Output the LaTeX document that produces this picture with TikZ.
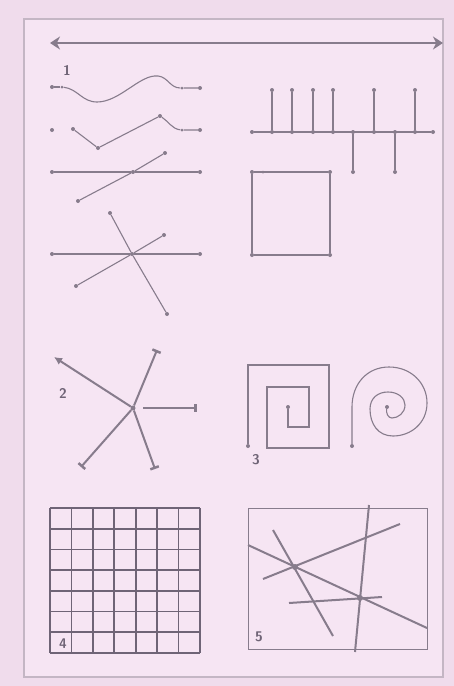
\documentclass[tikz,border=0pt]{standalone}
\usetikzlibrary{arrows.meta}
\definecolor{paper}{HTML}{F0DCEC}
\definecolor{paperin}{HTML}{F6E5F3}
\definecolor{ink}{HTML}{877C8C}
\definecolor{inkd}{HTML}{6F6476}
\definecolor{framec}{HTML}{C4B6C4}
\tikzset{
  ln/.style={draw=ink, line width=1.1pt},
  thk/.style={draw=ink, line width=2pt},
  pt/.style={circle, fill=ink, inner sep=0pt, minimum size=4pt},
  spt/.style={circle, fill=ink, inner sep=0pt, minimum size=3pt},
  lab/.style={text=inkd, font=\sffamily\bfseries\fontsize{14}{14}\selectfont, inner sep=0pt}
}
\begin{document}
\begin{tikzpicture}[x=1pt,y=-1pt]
\useasboundingbox (0,0) rectangle (454,686);
\fill[paper] (0,0) rectangle (454,686);
\fill[paperin] (24,19) rectangle (443,677);
\draw[framec, line width=1.4pt] (24,19) rectangle (443,677);

% top double arrow
\coordinate (A1) at (50,43);
\coordinate (A2) at (443,43);
\draw[draw=ink, line width=2.8pt, {Stealth[length=10pt,width=13pt]}-{Stealth[length=10pt,width=13pt]}] (A1) -- (A2);

% ---------- section 1 left ----------
\node[lab] (n1) at (67,70) {1};
% wave
\node[pt] (w0) at (52,87) {};
\node[spt] (w1) at (62,87) {};
\node[spt] (w2) at (182,88) {};
\node[pt] (w3) at (200,88) {};
\draw[ln] (w0) -- (w1);
\draw[ln] (w1) .. controls (78,89) and (82,102) .. (97,102)
   .. controls (120,102) and (140,74) .. (158,76)
   .. controls (168,77) and (170,88) .. (w2) -- (w3);
% zigzag
\node[pt] (z0) at (52,130) {};
\node[pt] (z1) at (73,129) {};
\node[pt] (z2) at (98,148) {};
\node[pt] (z3) at (160,116) {};
\node[spt] (z4) at (182,130) {};
\node[pt] (z5) at (200,130) {};
\draw[ln] (z1) -- (z2) -- (z3) .. controls (168,121) and (172,129) .. (z4) -- (z5);
% line with crossing
\node[pt] (h0) at (52,172) {};
\node[pt] (hc) at (133,172) {};
\node[pt] (h1) at (200,172) {};
\node[pt] (c0) at (165,153) {};
\node[pt] (c1) at (78,201) {};
\draw[ln] (h0) -- (hc) -- (h1);
\draw[ln] (c0) -- (hc) -- (c1);
% star
\node[pt] (s0) at (52,254) {};
\node[pt] (sc) at (132,254) {};
\node[pt] (s1) at (200,254) {};
\node[pt] (s2) at (110,213) {};
\node[pt] (s3) at (167,314) {};
\node[pt] (s4) at (164,235) {};
\node[pt] (s5) at (76,286) {};
\draw[ln] (s0) -- (sc) -- (s1);
\draw[ln] (s2) -- (sc) -- (s3);
\draw[ln] (s4) -- (sc) -- (s5);

% ---------- section 1 right ----------
\node[pt] (r0) at (252,132) {};
\node[pt] (r9) at (433,132) {};
\draw[ln] (r0) -- (r9);
\foreach \x [count=\i] in {272,292,313,333,374,415}{
  \node[pt] (ru\i) at (\x,132) {};
  \node[pt] (rt\i) at (\x,90) {};
  \draw[ln] (ru\i) -- (rt\i);
}
\foreach \x [count=\i] in {353,395}{
  \node[pt] (rd\i) at (\x,132) {};
  \node[pt] (rb\i) at (\x,172) {};
  \draw[ln] (rd\i) -- (rb\i);
}
% square
\node[pt] (q1) at (252,172) {};
\node[spt] (q1b) at (263,172) {};
\node[pt] (q2) at (330,172) {};
\node[pt] (q3) at (330,255) {};
\node[pt] (q4) at (252,255) {};
\draw[ln] (q1) -- (q2) -- (q3) -- (q4) -- (q1);

% ---------- section 2 ----------
\node[lab] (n2) at (63,393) {2};
\node[pt, minimum size=5pt] (pc) at (133,408) {};
\coordinate (pr0) at (143,408);
\coordinate (p1) at (54,357);
\coordinate (p2) at (157,350);
\coordinate (p3) at (197,408);
\coordinate (p4) at (81,467);
\coordinate (p5) at (155,469);
\draw[thk, -{Latex[length=8pt,width=8pt]}] (pc) -- (p1);
\draw[thk, -{Bar[width=9pt,line width=2.5pt]}] (pc) -- (p2);
\draw[thk, -{Bar[width=8pt,line width=3pt]}] (pr0) -- (p3);
\draw[thk, -{Bar[width=9pt,line width=2.5pt]}] (pc) -- (p4);
\draw[thk, -{Bar[width=9pt,line width=2.5pt]}] (pc) -- (p5);

% ---------- section 3 ----------
\node[lab] (n3) at (256,460) {3};
\node[pt] (sq0) at (248,446) {};
\node[pt] (sqe) at (288,407) {};
\draw[ln] (sq0) -- (248,365) -- (329,365) -- (329,448) -- (267,448) -- (267,387)
   -- (309,387) -- (309,427) -- (288,427) -- (sqe);
\node[pt] (cs0) at (352,446) {};
\node[pt] (csc) at (387,407) {};
\draw[ln] (cs0) -- (352,407)
  .. controls (352,384) and (367,367) .. (389,367)
  .. controls (411,367) and (427,383) .. (427,403)
  .. controls (427,423) and (411,436) .. (393,436)
  .. controls (378,436) and (370,424) .. (370,409)
  .. controls (370,398) and (378,392) .. (388,392)
  .. controls (398,392) and (405,398) .. (405,405)
  .. controls (405,413) and (398,418) .. (392,418)
  .. controls (388,418) and (386,413) .. (csc);

% ---------- section 4: grid ----------
\node[lab] (n4) at (63,644) {4};
\foreach \i in {0,...,7}{
  \draw[draw=inkd, line width=1.8pt] ({50+\i*150/7},508) -- ({50+\i*150/7},653);
  \draw[draw=inkd, line width=1.8pt] (50,{508+\i*145/7}) -- (200,{508+\i*145/7});
}

% ---------- section 5 ----------
\node[lab] (n5) at (259,637) {5};
\draw[draw=ink, line width=1pt] (248,508) rectangle (427,649);
\coordinate (l1a) at (273,530); \coordinate (l1b) at (333,636);
\coordinate (l2a) at (248,545); \coordinate (l2b) at (427,628);
\coordinate (l3a) at (263,579); \coordinate (l3b) at (400,524);
\coordinate (l4a) at (369,505); \coordinate (l4b) at (355,652);
\coordinate (l5a) at (289,603); \coordinate (l5b) at (382,597);
\draw[thk] (l1a) -- (l1b);
\draw[thk] (l2a) -- (l2b);
\draw[thk] (l3a) -- (l3b);
\draw[thk] (l4a) -- (l4b);
\draw[thk] (l5a) -- (l5b);
\node[pt, minimum size=6pt] (x1) at (295,567) {};
\node[pt, minimum size=6pt] (x2) at (360,598) {};
\end{tikzpicture}
\end{document}
